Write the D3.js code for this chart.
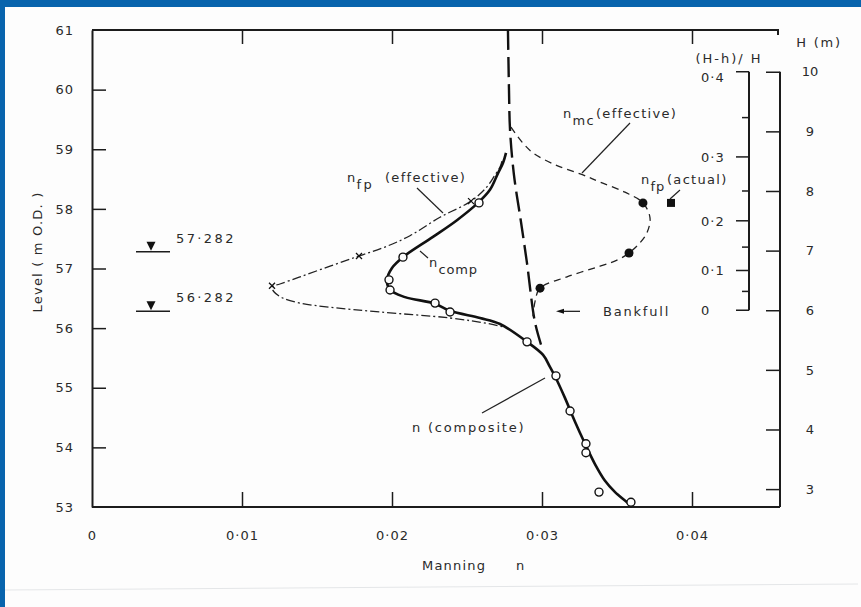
<!DOCTYPE html>
<html>
<head>
<meta charset="utf-8">
<script src="https://cdn.jsdelivr.net/npm/d3@7"></script>
<style>
  html, body { margin: 0; padding: 0; background: #0864ad; }
  svg { display: block; }
  text { font-family: "DejaVu Sans", "Liberation Sans", sans-serif; fill: #2a2a2a; }
</style>
</head>
<body>
<svg id="chart" width="861" height="607"></svg>
<script>
// ---- axis ticks ----
const levelTicks = [53, 54, 55, 56, 57, 58, 59, 60, 61];
const nTicks = [0, 0.01, 0.02, 0.03, 0.04];
const depthTicks = [3, 4, 5, 6, 7, 8, 9, 10];
const ratioTicks = [0, 0.1, 0.2, 0.3, 0.4];
const ratioMinorTicks = [0.05, 0.15, 0.25, 0.35];

// ---- reference levels ----
const waterLevels = [57.282, 56.282];
const bankfullLevel = 56.282;
const bankfullDepth = 6;      // H (m) at bankfull
const depthDatum = 50.3;      // level (m O.D.) where H = 0

// ---- composite Manning n: observations [n, level] ----
const compositeObserved = [
  [0.0258, 58.10], [0.02073, 57.19], [0.0198, 56.81], [0.01987, 56.64],
  [0.02287, 56.42], [0.02387, 56.27], [0.0290, 55.77], [0.03093, 55.20],
  [0.03187, 54.61], [0.03293, 54.06], [0.03293, 53.91], [0.0338, 53.25],
  [0.03593, 53.08]
];

// ---- composite Manning n: fitted curve ----
const compositeCurve = [
  [0.02760, 58.94], [0.02740, 58.77], [0.02707, 58.60], [0.02653, 58.32],
  [0.02573, 58.10], [0.02433, 57.81], [0.02273, 57.53], [0.02073, 57.19],
  [0.02000, 57.01], [0.01967, 56.81], [0.01987, 56.64], [0.02087, 56.52],
  [0.02287, 56.41], [0.02387, 56.29], [0.02587, 56.17], [0.02720, 56.07],
  [0.02900, 55.77], [0.03007, 55.55], [0.03053, 55.35], [0.03093, 55.16],
  [0.03153, 54.83], [0.03220, 54.43], [0.03287, 54.06], [0.03353, 53.72],
  [0.03420, 53.44], [0.03487, 53.25], [0.03567, 53.08], [0.03600, 53.00]
];

// ---- flood plain effective n ----
const fpEffectiveCurve = [
  [0.02733, 58.80], [0.02720, 58.70], [0.02687, 58.57], [0.02633, 58.37],
  [0.02527, 58.13], [0.02320, 57.86], [0.02120, 57.55], [0.01953, 57.36],
  [0.01780, 57.21], [0.01587, 57.04], [0.01387, 56.86], [0.01253, 56.74],
  [0.01200, 56.69], [0.01213, 56.61], [0.01267, 56.51], [0.01387, 56.42],
  [0.01587, 56.35], [0.01920, 56.27], [0.02387, 56.17], [0.02653, 56.07],
  [0.02773, 56.00]
];
const fpEffectiveMarks = [[0.0120, 56.71], [0.0178, 57.21], [0.02527, 58.13]];

// ---- main channel n (heavy dashes) ----
const mcLine = [
  [0.02773, 61.00], [0.02780, 59.99], [0.02787, 59.32], [0.02813, 58.57],
  [0.02860, 57.78], [0.02900, 57.09], [0.02953, 56.10], [0.03000, 55.67]
];

// ---- main channel effective n ----
const mcEffectiveCurve = [
  [0.02793, 59.37], [0.02867, 59.12], [0.02940, 58.94], [0.03087, 58.74],
  [0.03273, 58.57], [0.03387, 58.45], [0.03553, 58.28], [0.03673, 58.10],
  [0.03720, 57.85], [0.03700, 57.60], [0.03653, 57.43], [0.03580, 57.26],
  [0.03500, 57.14], [0.03387, 57.04], [0.03167, 56.86], [0.02987, 56.67],
  [0.02953, 56.44], [0.02940, 56.20]
];
const mcEffectivePoints = [[0.03673, 58.10], [0.0358, 57.26], [0.02987, 56.67]];

// ---- flood plain actual n ----
const fpActualPoints = [[0.0386, 58.10]];

// ---- layout ----
const W = 861, H = 607;
const plot = { left: 92, right: 780, top: 30, bottom: 507 };

const svg = d3.select("#chart");

// page
svg.append("rect").attr("x", 5).attr("y", 7).attr("width", W - 5).attr("height", H - 7)
  .attr("fill", "#fdfdfd");
svg.append("line").attr("x1", 5).attr("x2", 858).attr("y1", 590).attr("y2", 584)
  .attr("stroke", "#e4e6e8").attr("stroke-width", 1);

const x = d3.scaleLinear().domain([0, 0.04]).range([plot.left, plot.left + 600]);
const y = d3.scaleLinear().domain([53, 61]).range([plot.bottom, plot.top]);
const yH = d3.scaleLinear().domain([53 - depthDatum, 61 - depthDatum]).range([plot.bottom, plot.top]);
const yRatio = r => yH(bankfullDepth / (1 - r));

const fmtN = d => d === 0 ? "0" : d3.format(".2f")(d).replace(".", "·");
const fmtR = d => d === 0 ? "0" : d3.format(".1f")(d).replace(".", "·");
const fmtLevel = d => d3.format(".3f")(d).replace(".", "·");

const ink = "#1c1c1c";

// left axis
const gL = svg.append("g").attr("transform", `translate(${plot.left},0)`)
  .call(d3.axisLeft(y).tickValues(levelTicks).tickSize(-14).tickSizeOuter(0).tickPadding(18)
    .tickFormat(d3.format("d")));
gL.selectAll(".tick line").filter(d => d === 61 || d === 53).remove();

// bottom axis
const gB = svg.append("g").attr("transform", `translate(0,${plot.bottom})`)
  .call(d3.axisBottom(x).tickValues(nTicks).tickSize(-15).tickSizeOuter(0).tickPadding(24)
    .tickFormat(fmtN));
gB.selectAll(".tick line").filter(d => d === 0).remove();

// top axis
const gT = svg.append("g").attr("transform", `translate(0,${plot.top})`)
  .call(d3.axisTop(x).tickValues(nTicks.slice(1)).tickSize(-14).tickSizeOuter(0).tickFormat(""));
gT.select(".domain").attr("d", `M${plot.left},0H${plot.right - 2}V5`);

[gL, gB, gT].forEach(g => {
  g.select(".domain").attr("stroke", ink).attr("stroke-width", 2);
  g.selectAll(".tick line").attr("stroke", ink).attr("stroke-width", 1.5);
  g.selectAll(".tick text").attr("fill", "#2a2a2a").style("font-size", "13px")
    .style("font-family", "\"DejaVu Sans\", sans-serif").style("letter-spacing", "1px");
});
gB.selectAll(".domain").attr("d", `M${plot.left},0H${plot.right}`);

// right depth axis H (m)
const gR = svg.append("g").attr("transform", `translate(${plot.right},0)`)
  .call(d3.axisRight(yH).tickValues(depthTicks).tickSize(-14).tickPadding(30).tickFormat(d3.format("d")));
gR.select(".domain").attr("d", `M0,${yH(10)}V${plot.bottom}`).attr("stroke", ink).attr("stroke-width", 2);
gR.selectAll(".tick line").attr("stroke", ink).attr("stroke-width", 1.5);
gR.selectAll(".tick text").attr("text-anchor", "middle").style("font-size", "13px")
  .style("font-family", "\"DejaVu Sans\", sans-serif");

svg.append("text").attr("x", 819).attr("y", 47).attr("text-anchor", "middle")
  .style("font-size", "13px").style("letter-spacing", "1.8px").text("H (m)");

// (H-h)/H axis
const ratioX = 749;
const gQ = svg.append("g");
gQ.append("line").attr("x1", ratioX).attr("x2", ratioX)
  .attr("y1", yRatio(0.4)).attr("y2", yRatio(0))
  .attr("stroke", ink).attr("stroke-width", 2);
gQ.selectAll("line.maj").data(ratioTicks).join("line").attr("class", "maj")
  .attr("x1", ratioX - 13).attr("x2", ratioX)
  .attr("y1", d => yRatio(d)).attr("y2", d => yRatio(d))
  .attr("stroke", ink).attr("stroke-width", 1.5);
gQ.selectAll("line.min").data(ratioMinorTicks).join("line").attr("class", "min")
  .attr("x1", ratioX - 7).attr("x2", ratioX)
  .attr("y1", d => yRatio(d)).attr("y2", d => yRatio(d))
  .attr("stroke", ink).attr("stroke-width", 1.5);
gQ.selectAll("text").data(ratioTicks).join("text")
  .attr("x", 701).attr("y", d => yRatio(d) + (d === 0.4 ? 10 : 5))
  .style("font-size", "13px").style("letter-spacing", "1px")
  .text(fmtR);
svg.append("text").attr("x", 729).attr("y", 63).attr("text-anchor", "middle")
  .style("font-size", "13px").style("letter-spacing", "2px").text("(H-h)/ H");

// axis titles
svg.append("text").attr("transform", "translate(42,252) rotate(-90)").attr("text-anchor", "middle")
  .style("font-size", "13px").style("letter-spacing", "1.2px").text("Level ( m O.D. )");
const xt = svg.append("text").attr("y", 570).style("font-size", "13px").style("letter-spacing", "1.2px");
xt.append("tspan").attr("x", 422).text("Manning");
xt.append("tspan").attr("x", 516).text("n");

// water level markers
const wl = svg.append("g").selectAll("g").data(waterLevels).join("g");
wl.append("line").attr("x1", 136).attr("x2", 170)
  .attr("y1", d => y(d)).attr("y2", d => y(d)).attr("stroke", ink).attr("stroke-width", 1.6);
wl.append("path")
  .attr("d", d => `M${146.5},${y(d) - 10}L${155.5},${y(d) - 10}L${151},${y(d) - 1}Z`)
  .attr("fill", "#111");
wl.append("text").attr("x", 176).attr("y", d => y(d) - 9)
  .style("font-size", "13px").style("letter-spacing", "2.4px").text(fmtLevel);

// curves
const line = d3.line().x(d => x(d[0])).y(d => y(d[1])).curve(d3.curveCatmullRom.alpha(0.5));

svg.append("path").datum(mcLine).attr("d", line)
  .attr("fill", "none").attr("stroke", "#111").attr("stroke-width", 2.4)
  .attr("stroke-dasharray", "20,7");

svg.append("path").datum(mcEffectiveCurve).attr("d", line)
  .attr("fill", "none").attr("stroke", "#222").attr("stroke-width", 1.3)
  .attr("stroke-dasharray", "7,5");

svg.append("path").datum(fpEffectiveCurve).attr("d", line)
  .attr("fill", "none").attr("stroke", "#222").attr("stroke-width", 1.3)
  .attr("stroke-dasharray", "9,3,2,3");

svg.append("path").datum(compositeCurve).attr("d", line)
  .attr("fill", "none").attr("stroke", "#111").attr("stroke-width", 2.6);

// markers
svg.append("g").selectAll("circle").data(compositeObserved).join("circle")
  .attr("cx", d => x(d[0])).attr("cy", d => y(d[1])).attr("r", 4)
  .attr("fill", "#fdfdfd").attr("stroke", "#111").attr("stroke-width", 1.4);

svg.append("g").selectAll("circle").data(mcEffectivePoints).join("circle")
  .attr("cx", d => x(d[0])).attr("cy", d => y(d[1])).attr("r", 4.5).attr("fill", "#111");

svg.append("g").selectAll("rect").data(fpActualPoints).join("rect")
  .attr("x", d => x(d[0]) - 4).attr("y", d => y(d[1]) - 4).attr("width", 8).attr("height", 8)
  .attr("fill", "#111");

svg.append("g").selectAll("path").data(fpEffectiveMarks).join("path")
  .attr("d", d => { const cx = x(d[0]), cy = y(d[1]), s = 3;
    return `M${cx - s},${cy - s}L${cx + s},${cy + s}M${cx - s},${cy + s}L${cx + s},${cy - s}`; })
  .attr("stroke", "#111").attr("stroke-width", 1.3);

// annotations
const ann = svg.append("g");
const leaders = [
  [417, 188, 443, 213], [420, 251, 428, 258], [582, 173, 630, 123],
  [680, 190, 670, 199], [482, 413, 545, 378]
];
ann.selectAll("line").data(leaders).join("line")
  .attr("x1", d => d[0]).attr("y1", d => d[1]).attr("x2", d => d[2]).attr("y2", d => d[3])
  .attr("stroke", "#222").attr("stroke-width", 1.2);

function subLabel(xp, yp, main, sub, subSpacing, rest, restX) {
  const t = ann.append("text").attr("y", yp).style("font-size", "13px").style("letter-spacing", "1.3px");
  t.append("tspan").attr("x", xp).text(main);
  t.append("tspan").attr("dy", 7).style("letter-spacing", subSpacing + "px").text(sub);
  if (rest) t.append("tspan").attr("x", restX).attr("dy", -7).style("letter-spacing", "1.3px").text(rest);
}
subLabel(347, 182, "n", "fp", 2.5, "(effective)", 385);
subLabel(429, 267, "n", "comp", 0.8, null, 0);
subLabel(563, 118, "n", "mc", 1.2, "(effective)", 596);
subLabel(641, 184, "n", "fp", 1, "(actual)", 667);

ann.append("text").attr("x", 412).attr("y", 432).style("font-size", "13px")
  .style("letter-spacing", "1.8px").text("n (composite)");
ann.append("text").attr("x", 603).attr("y", y(bankfullLevel) + 5).style("font-size", "13px")
  .style("letter-spacing", "1.8px").text("Bankfull");

// bankfull arrow
ann.append("line").attr("x1", 580).attr("x2", 562)
  .attr("y1", y(bankfullLevel)).attr("y2", y(bankfullLevel))
  .attr("stroke", "#111").attr("stroke-width", 1.2);
ann.append("path")
  .attr("d", `M556,${y(bankfullLevel)}L564,${y(bankfullLevel) - 2.5}L564,${y(bankfullLevel) + 2.5}Z`)
  .attr("fill", "#111");
</script>
</body>
</html>
